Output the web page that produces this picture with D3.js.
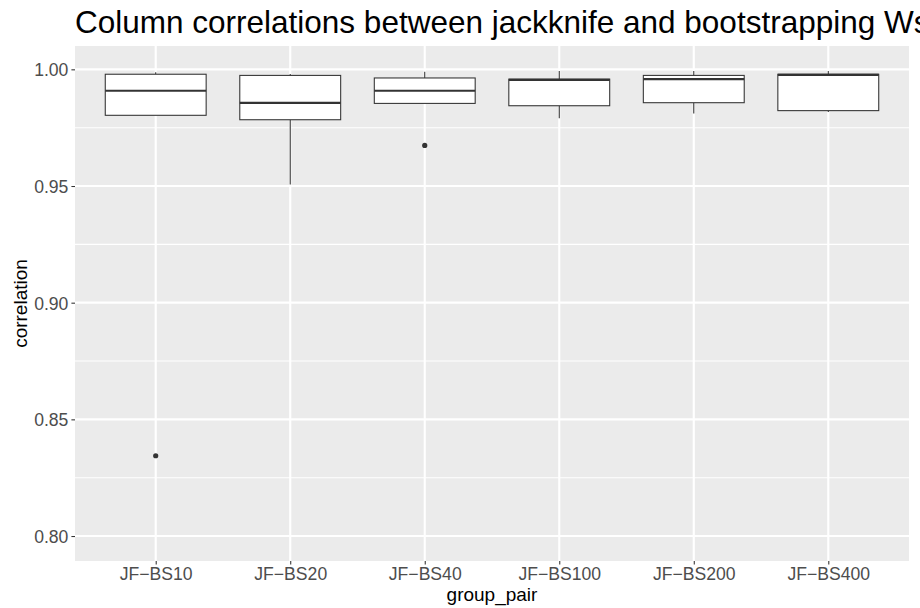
<!DOCTYPE html>
<html>
<head>
<meta charset="utf-8">
<script src="https://cdn.jsdelivr.net/npm/d3@7"></script>
<style>
  html, body { margin: 0; padding: 0; background: #ffffff; }
  svg { display: block; font-family: "Liberation Sans", Arial, sans-serif; }
</style>
</head>
<body>
<svg id="chart" width="920" height="608"></svg>
<script>
// Box summaries per group pair
const groups      = ["JF\u2212BS10", "JF\u2212BS20", "JF\u2212BS40", "JF\u2212BS100", "JF\u2212BS200", "JF\u2212BS400"];
const whiskerLow  = [0.9803, 0.9507, 0.9854, 0.9790, 0.9811, 0.9817];
const q1          = [0.9803, 0.9784, 0.9854, 0.9844, 0.9857, 0.9823];
const median      = [0.9908, 0.9856, 0.9908, 0.9955, 0.9958, 0.9976];
const q3          = [0.9979, 0.9974, 0.9963, 0.9958, 0.9974, 0.9979];
const whiskerHigh = [0.9987, 0.9980, 0.9990, 0.9993, 0.9993, 0.9993];
const outliers    = [[0.8344], [], [0.9674], [], [], []];
const yTicks      = [0.80, 0.85, 0.90, 0.95, 1.00];
const yMinor      = [0.825, 0.875, 0.925, 0.975];

const titleText = "Column correlations between jackknife and bootstrapping Ws";
const xTitle = "group_pair";
const yTitle = "correlation";

const svg = d3.select("#chart");
const panel = { left: 75, right: 909, top: 46, bottom: 561 };

const x = d3.scalePoint().domain(groups).range([panel.left, panel.right]).padding(0.6);
const y = d3.scaleLinear().domain([0.7893, 1.0100]).range([panel.bottom, panel.top]);
const boxW = x.step() * 0.75;

// Panel background
svg.append("rect")
  .attr("x", panel.left).attr("y", panel.top)
  .attr("width", panel.right - panel.left).attr("height", panel.bottom - panel.top)
  .attr("fill", "#EBEBEB");

const grid = svg.append("g");
grid.selectAll("line.minor").data(yMinor).enter().append("line")
  .attr("x1", panel.left).attr("x2", panel.right)
  .attr("y1", d => y(d)).attr("y2", d => y(d))
  .attr("stroke", "#ffffff").attr("stroke-width", 1.07);
grid.selectAll("line.majory").data(yTicks).enter().append("line")
  .attr("x1", panel.left).attr("x2", panel.right)
  .attr("y1", d => y(d)).attr("y2", d => y(d))
  .attr("stroke", "#ffffff").attr("stroke-width", 2.13);
grid.selectAll("line.majorx").data(groups).enter().append("line")
  .attr("x1", d => x(d)).attr("x2", d => x(d))
  .attr("y1", panel.top).attr("y2", panel.bottom)
  .attr("stroke", "#ffffff").attr("stroke-width", 2.13);

// Boxplots
const rows = groups.map((g, i) => ({
  g, lo: whiskerLow[i], q1: q1[i], med: median[i], q3: q3[i], hi: whiskerHigh[i], out: outliers[i]
}));
const boxes = svg.append("g").selectAll("g").data(rows).enter().append("g");

boxes.append("line")
  .attr("x1", d => x(d.g)).attr("x2", d => x(d.g))
  .attr("y1", d => y(d.q3)).attr("y2", d => y(d.hi))
  .attr("stroke", "#333333").attr("stroke-width", 1.07);
boxes.append("line")
  .attr("x1", d => x(d.g)).attr("x2", d => x(d.g))
  .attr("y1", d => y(d.q1)).attr("y2", d => y(d.lo))
  .attr("stroke", "#333333").attr("stroke-width", 1.07);
boxes.append("rect")
  .attr("x", d => x(d.g) - boxW / 2).attr("width", boxW)
  .attr("y", d => y(d.q3)).attr("height", d => y(d.q1) - y(d.q3))
  .attr("fill", "#ffffff").attr("stroke", "#333333").attr("stroke-width", 1.07);
boxes.append("line")
  .attr("x1", d => x(d.g) - boxW / 2).attr("x2", d => x(d.g) + boxW / 2)
  .attr("y1", d => y(d.med)).attr("y2", d => y(d.med))
  .attr("stroke", "#333333").attr("stroke-width", 2.13);
boxes.selectAll("circle").data(d => d.out.map(v => ({ g: d.g, v }))).enter().append("circle")
  .attr("cx", d => x(d.g)).attr("cy", d => y(d.v)).attr("r", 2.6)
  .attr("fill", "#333333");

// Axes
const yAxis = svg.append("g")
  .attr("transform", `translate(${panel.left},0)`)
  .call(d3.axisLeft(y).tickValues(yTicks).tickFormat(d3.format(".2f")).tickSize(3.6).tickPadding(3));
const xAxis = svg.append("g")
  .attr("transform", `translate(0,${panel.bottom})`)
  .call(d3.axisBottom(x).tickSize(3.6).tickPadding(2));
[yAxis, xAxis].forEach(a => {
  a.select(".domain").remove();
  a.selectAll(".tick line").attr("stroke", "#333333").attr("stroke-width", 1.07);
  a.selectAll(".tick text").attr("fill", "#4D4D4D")
    .style("font-size", "17.6px").style("font-family", "'Liberation Sans', Arial, sans-serif");
});
yAxis.selectAll(".tick text").attr("dy", "0.36em");
xAxis.selectAll(".tick text").attr("dy", "0.76em");

// Titles
svg.append("text")
  .attr("x", panel.left).attr("y", 33)
  .attr("fill", "#000000").style("font-size", "31.5px")
  .text(titleText);
svg.append("text")
  .attr("x", (panel.left + panel.right) / 2).attr("y", 601)
  .attr("text-anchor", "middle").attr("fill", "#000000").style("font-size", "19px")
  .text(xTitle);
svg.append("text")
  .attr("transform", `translate(27,${(panel.top + panel.bottom) / 2}) rotate(-90)`)
  .attr("text-anchor", "middle").attr("fill", "#000000").style("font-size", "19px")
  .text(yTitle);
</script>
</body>
</html>
